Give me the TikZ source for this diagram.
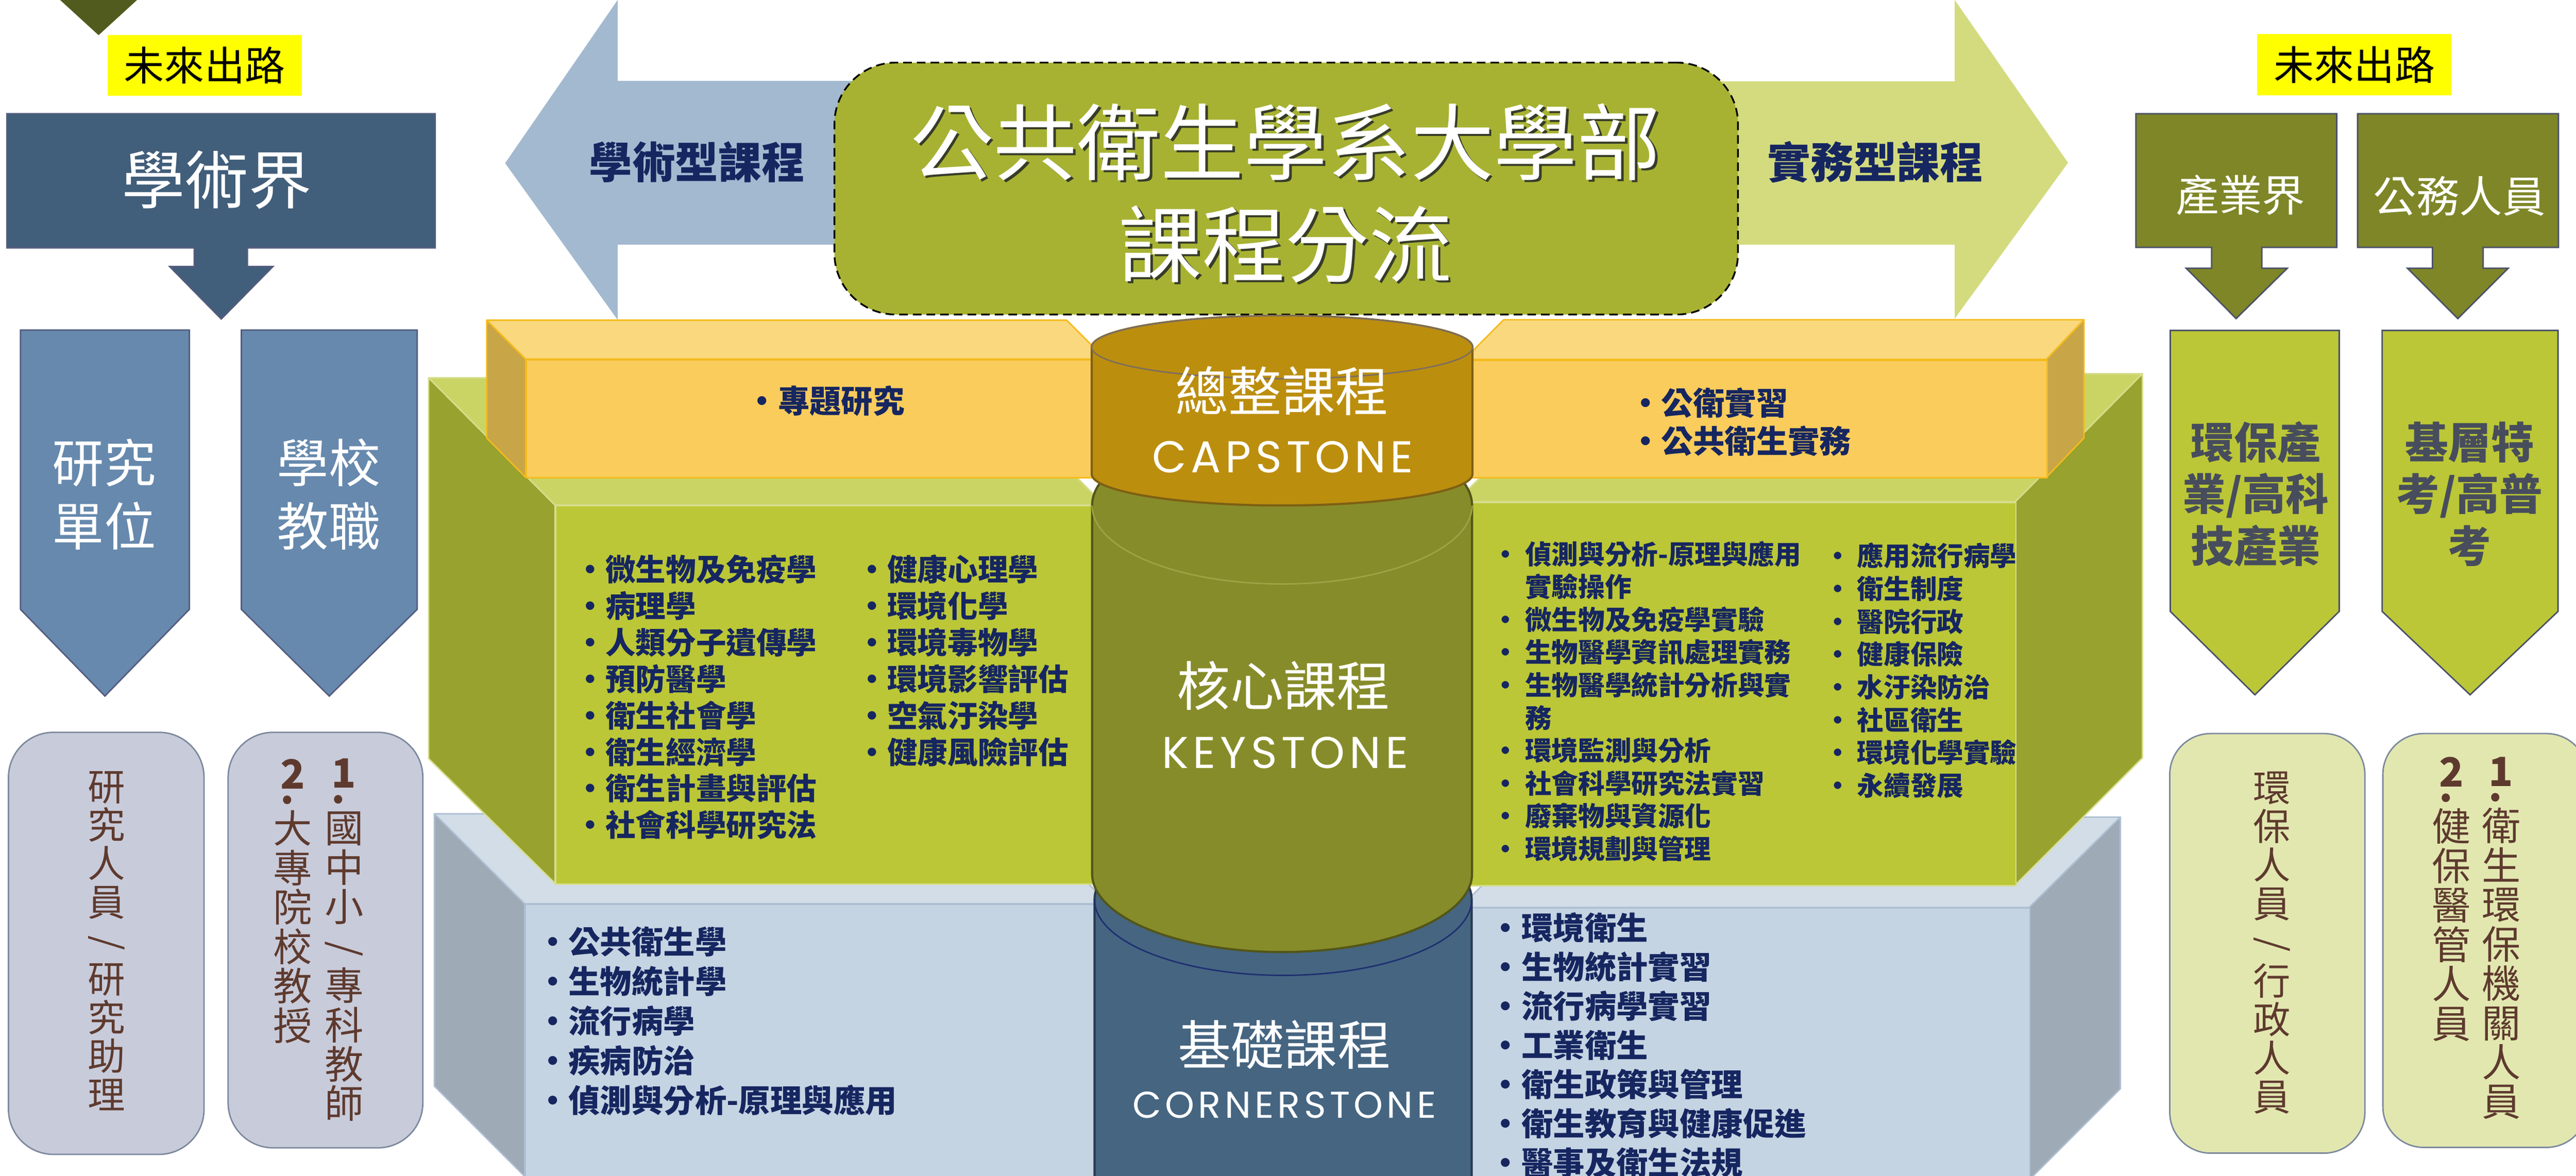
\documentclass[tikz,border=0pt]{standalone}
\usepackage[usenames,dvipsnames]{xcolor}
\usepackage{fontspec}
\setmainfont{Noto Sans CJK TC}
\newfontfamily\stonefont{Poppins}[LetterSpace=10]
\usepackage{tikz}
\usetikzlibrary{calc}
\usetikzlibrary{positioning}

\definecolor{olivedark}{RGB}{82,91,30}
\definecolor{futureyellow}{RGB}{255,255,0}
\definecolor{acadblue}{RGB}{65,94,122}
\definecolor{acadlight}{RGB}{102,137,173}
\definecolor{acadedge}{RGB}{84,92,126}
\definecolor{acadbox}{RGB}{200,203,218}
\definecolor{boxedge}{RGB}{124,137,157}
\definecolor{pracolive}{RGB}{126,134,40}
\definecolor{praclight}{RGB}{187,199,54}
\definecolor{pracbox}{RGB}{226,231,176}
\definecolor{pracedge}{RGB}{74,80,104}
\definecolor{pengray}{RGB}{71,77,92}
\definecolor{arrowblue}{RGB}{163,185,208}
\definecolor{arrowgreen}{RGB}{211,219,126}
\definecolor{titlegreen}{RGB}{167,178,50}
\definecolor{titleshadow}{RGB}{55,60,40}
\definecolor{capfront}{RGB}{249,204,92}
\definecolor{captop}{RGB}{249,216,126}
\definecolor{capside}{RGB}{200,165,71}
\definecolor{capedge}{RGB}{244,187,28}
\definecolor{keyfront}{RGB}{187,199,54}
\definecolor{keytop}{RGB}{202,212,101}
\definecolor{keyside}{RGB}{152,162,46}
\definecolor{keyedge}{RGB}{213,221,140}
\definecolor{cornfront}{RGB}{197,212,226}
\definecolor{corntop}{RGB}{210,221,232}
\definecolor{cornside}{RGB}{158,170,182}
\definecolor{cornedge}{RGB}{174,191,211}
\definecolor{cylcap}{RGB}{188,142,14}
\definecolor{cylcapedge}{RGB}{125,96,20}
\definecolor{cylcaplid}{RGB}{124,110,94}
\definecolor{cylkey}{RGB}{135,140,42}
\definecolor{cylkeyedge}{RGB}{82,86,24}
\definecolor{cylkeyarc}{RGB}{157,164,70}
\definecolor{cylcorn}{RGB}{69,101,129}
\definecolor{cylcornedge}{RGB}{40,58,80}
\definecolor{cylcornarc}{RGB}{31,47,112}
\definecolor{listnavy}{RGB}{22,38,96}
\definecolor{vertbrown}{RGB}{94,58,46}

\newcommand{\jobnum}[1]{{\bfseries\fontsize{28}{28}\selectfont #1}\\[-16.9pt]\makebox[0.6cm][l]{\bfseries .}}

\begin{document}
\begin{tikzpicture}[x=1cm, y=-1cm,
  titlefont/.style={align=center, font=\fontsize{58}{71}\selectfont},
  trackfont/.style={text=listnavy, font=\bfseries\fontsize{30}{30}\selectfont},
  cyltext/.style={text=white, font=\fontsize{37}{37}\selectfont},
  stonetext/.style={text=white, font=\stonefont\fontsize{31}{31}\selectfont},
  listtext/.style={align=left, anchor=north west, inner sep=0pt, text=listnavy},
  vertcol/.style={align=center, anchor=north, inner sep=0pt, text=vertbrown, font=\fontsize{27}{27.4}\selectfont},
  futurebox/.style={rectangle, fill=futureyellow, minimum width=4.75cm, minimum height=1.49cm, anchor=north west, font=\fontsize{28}{28}\selectfont},
  slabedge/.style={line width=1pt, line join=round},
  pentext/.style={align=center, text=pengray, font=\bfseries\fontsize{30}{36}\selectfont}]

\useasboundingbox (0,0) rectangle (62.98,28.75);

\fill[olivedark] (1.47,0) -- (3.35,0) -- (2.41,0.86) -- cycle;
\node at (2.62,0.85) [futurebox] (futureleft) {未來出路};
\node at (55.18,0.83) [futurebox] (futureright) {未來出路};

\fill[arrowblue] (12.35,3.99) -- (15.10,0) -- (15.10,1.98) -- (21.00,1.98) -- (21.00,5.98) -- (15.10,5.98) -- (15.10,7.82) -- cycle;
\fill[arrowgreen] (42.00,1.99) -- (47.79,1.99) -- (47.79,0) -- (50.56,3.98) -- (47.79,7.79) -- (47.79,5.98) -- (42.00,5.98) -- cycle;

\node at (20.38,1.51) [rectangle, rounded corners=1.5cm, draw=black, line width=1.2pt, dash pattern=on 6pt off 3.5pt, fill=titlegreen, minimum width=22.09cm, minimum height=6.16cm, anchor=north west] (titlebox) {};
\node at (31.49,4.78) [titlefont, text=titleshadow] (titleshade) {公共衛生學系大學部\\課程分流};
\node at (31.43,4.72) [titlefont, text=white] (title) {公共衛生學系大學部\\課程分流};

\node at (17.04,3.96) [trackfont] (acadtrack) {學術型課程};
\node at (45.85,3.96) [trackfont] (practrack) {實務型課程};

\filldraw[fill=cornside, draw=cornedge, slabedge] (10.62,19.90) -- (12.83,22.10) -- (12.83,28.77) -- (10.62,26.56) -- cycle;
\filldraw[fill=corntop, draw=cornedge, slabedge] (10.62,19.90) -- (24.90,19.90) -- (27.10,22.10) -- (12.83,22.10) -- cycle;
\node at (12.83,22.10) [rectangle, fill=cornfront, draw=cornedge, slabedge, minimum width=14.3cm, minimum height=7cm, anchor=north west] (cornleft) {};
\filldraw[fill=corntop, draw=cornedge, slabedge] (35.70,22.19) -- (37.90,19.98) -- (51.84,19.98) -- (49.61,22.19) -- cycle;
\filldraw[fill=cornside, draw=cornedge, slabedge] (49.61,22.19) -- (51.84,19.98) -- (51.84,26.62) -- (49.61,28.85) -- cycle;
\node at (35.60,22.19) [rectangle, fill=cornfront, draw=cornedge, slabedge, minimum width=14.01cm, minimum height=7cm, anchor=north west] (cornright) {};

\filldraw[fill=keyside, draw=keyedge, slabedge] (10.48,9.24) -- (13.57,12.35) -- (13.57,21.60) -- (10.48,18.55) -- cycle;
\filldraw[fill=keytop, draw=keyedge, slabedge] (10.48,9.24) -- (23.90,9.24) -- (27.00,12.35) -- (13.57,12.35) -- cycle;
\node at (13.57,12.35) [rectangle, fill=keyfront, draw=keyedge, slabedge, minimum width=13.6cm, minimum height=9.25cm, anchor=north west] (keyleft) {};
\filldraw[fill=keytop, draw=keyedge, slabedge] (35.60,12.27) -- (38.70,9.14) -- (52.38,9.14) -- (49.27,12.27) -- cycle;
\filldraw[fill=keyside, draw=keyedge, slabedge] (49.27,12.27) -- (52.38,9.14) -- (52.38,18.53) -- (49.27,21.64) -- cycle;
\node at (35.60,12.27) [rectangle, fill=keyfront, draw=keyedge, slabedge, minimum width=13.67cm, minimum height=9.37cm, anchor=north west] (keyright) {};

\filldraw[fill=capside, draw=capedge, slabedge] (11.90,7.83) -- (12.85,8.78) -- (12.85,11.67) -- (11.90,10.71) -- cycle;
\filldraw[fill=captop, draw=capedge, slabedge] (11.90,7.83) -- (26.08,7.83) -- (27.03,8.78) -- (12.85,8.78) -- cycle;
\node at (12.85,8.78) [rectangle, fill=capfront, draw=capedge, slabedge, minimum width=14.2cm, minimum height=2.89cm, anchor=north west] (capleft) {};
\filldraw[fill=captop, draw=capedge, slabedge] (35.80,8.79) -- (36.76,7.82) -- (50.95,7.82) -- (50.03,8.79) -- cycle;
\filldraw[fill=capside, draw=capedge, slabedge] (50.03,8.79) -- (50.95,7.82) -- (50.95,10.71) -- (50.03,11.67) -- cycle;
\node at (35.80,8.79) [rectangle, fill=capfront, draw=capedge, slabedge, minimum width=14.23cm, minimum height=2.88cm, anchor=north west] (capright) {};

\filldraw[fill=cylcorn, draw=cylcornedge, line width=1.5pt] (26.76,22.00) -- (26.76,30.00) -- (35.98,30.00) -- (35.98,22.00) arc[start angle=0, end angle=-180, x radius=4.61, y radius=1.85] -- cycle;
\draw[cylcornarc, line width=1pt] (26.76,22.00) arc[start angle=180, end angle=0, x radius=4.61, y radius=1.85];

\filldraw[fill=cylkey, draw=cylkeyedge, line width=1.5pt] (26.70,12.36) -- (26.70,21.36) arc[start angle=180, end angle=0, x radius=4.645, y radius=1.92] -- (35.99,12.36) arc[start angle=0, end angle=-180, x radius=4.645, y radius=1.92] -- cycle;
\draw[cylkeyarc, line width=1pt] (26.70,12.36) arc[start angle=180, end angle=0, x radius=4.645, y radius=1.92];

\filldraw[fill=cylcap, draw=cylcapedge, line width=1.5pt] (26.69,8.49) -- (26.69,11.59) arc[start angle=180, end angle=0, x radius=4.655, y radius=0.77] -- (36.00,8.49) arc[start angle=0, end angle=-180, x radius=4.655, y radius=0.77] -- cycle;
\draw[fill=cylcap, draw=cylcaplid, line width=1pt] (31.345,8.49) ellipse [x radius=4.655, y radius=0.77];

\node at (31.34,9.56) [cyltext] (capname) {總整課程};
\node at (31.36,11.17) [stonetext] (capeng) {CAPSTONE};
\node at (31.38,16.77) [cyltext] (keyname) {核心課程};
\node at (31.42,18.41) [stonetext] (keyeng) {KEYSTONE};
\node at (31.40,25.55) [cyltext] (cornname) {基礎課程};
\node at (31.40,27.02) [stonetext, font=\stonefont\fontsize{26}{26}\selectfont] (corneng) {CORNERSTONE};

\node at (18.24,9.43) [listtext, font=\bfseries\fontsize{22}{26.7}\selectfont] (capleftlist) {•專題研究};
\node at (39.84,9.47) [listtext, font=\bfseries\fontsize{22}{26.7}\selectfont] (caprightlist) {•公衛實習\\•公共衛生實務};

\node at (14.06,13.56) [listtext, font=\bfseries\fontsize{21}{25.4}\selectfont] (keyleftlist) {•微生物及免疫學\\•病理學\\•人類分子遺傳學\\•預防醫學\\•衛生社會學\\•衛生經濟學\\•衛生計畫與評估\\•社會科學研究法};
\node at (20.95,13.56) [listtext, font=\bfseries\fontsize{21}{25.4}\selectfont] (keyleftlisttwo) {•健康心理學\\•環境化學\\•環境毒物學\\•環境影響評估\\•空氣汙染學\\•健康風險評估};

\node at (36.48,13.22) [listtext, font=\bfseries\fontsize{18.5}{22.8}\selectfont] (keyrightlist) {•~偵測與分析-原理與應用\\\phantom{•~}實驗操作\\•~微生物及免疫學實驗\\•~生物醫學資訊處理實務\\•~生物醫學統計分析與實\\\phantom{•~}務\\•~環境監測與分析\\•~社會科學研究法實習\\•~廢棄物與資源化\\•~環境規劃與管理};
\node at (44.60,13.27) [listtext, font=\bfseries\fontsize{18.5}{22.8}\selectfont] (keyrightlisttwo) {•~應用流行病學\\•~衛生制度\\•~醫院行政\\•~健康保險\\•~水汙染防治\\•~社區衛生\\•~環境化學實驗\\•~永續發展};

\node at (13.12,22.65) [listtext, font=\bfseries\fontsize{22}{27.6}\selectfont] (cornleftlist) {•公共衛生學\\•生物統計學\\•流行病學\\•疾病防治\\•偵測與分析-原理與應用};
\node at (36.42,22.31) [listtext, font=\bfseries\fontsize{22}{27.2}\selectfont] (cornrightlist) {•環境衛生\\•生物統計實習\\•流行病學實習\\•工業衛生\\•衛生政策與管理\\•衛生教育與健康促進\\•醫事及衛生法規};

\draw[fill=acadblue, draw=acadedge, line width=1pt] (0.17,2.78) -- (10.64,2.78) -- (10.64,6.06) -- (6.05,6.06) -- (6.05,6.52) -- (6.67,6.52) -- (5.41,7.80) -- (4.15,6.52) -- (4.75,6.52) -- (4.75,6.06) -- (0.17,6.06) -- cycle;
\node at (5.30,4.40) [text=white, font=\fontsize{44}{44}\selectfont] (acad) {學術界};

\draw[fill=acadlight, draw=acadedge, line width=1pt] (0.50,8.07) -- (4.63,8.07) -- (4.63,14.90) -- (2.565,17.02) -- (0.50,14.90) -- cycle;
\draw[fill=acadlight, draw=acadedge, line width=1pt] (5.90,8.07) -- (10.20,8.07) -- (10.20,14.90) -- (8.05,17.02) -- (5.90,14.90) -- cycle;
\node at (2.55,12.09) [align=center, text=white, font=\fontsize{36}{44}\selectfont] (resunit) {研究\\單位};
\node at (8.04,12.09) [align=center, text=white, font=\fontsize{36}{44}\selectfont] (schpost) {學校\\教職};

\node at (0.19,17.89) [rectangle, rounded corners=1.1cm, draw=boxedge, line width=1pt, fill=acadbox, minimum width=4.78cm, minimum height=10.32cm, anchor=north west] (resjob) {};
\node at (5.56,17.89) [rectangle, rounded corners=1.1cm, draw=boxedge, line width=1pt, fill=acadbox, minimum width=4.76cm, minimum height=10.16cm, anchor=north west] (schjob) {};
\node at (2.61,18.85) [vertcol, font=\fontsize{26}{26.8}\selectfont] (resjobtext) {研\\究\\人\\員\\\rotatebox[origin=c]{-90}{/}\\研\\究\\助\\理};
\node at (8.41,18.55) [vertcol] (schjobone) {\jobnum{1}\\國\\中\\小\\\rotatebox[origin=c]{-90}{/}\\專\\科\\教\\師};
\node at (7.16,18.55) [vertcol] (schjobtwo) {\jobnum{2}\\大\\專\\院\\校\\教\\授};

\draw[fill=pracolive, draw=pracedge, line width=1pt] (52.22,2.78) -- (57.13,2.78) -- (57.13,6.05) -- (55.30,6.05) -- (55.30,6.56) -- (55.92,6.56) -- (54.67,7.79) -- (53.45,6.56) -- (54.07,6.56) -- (54.07,6.05) -- (52.22,6.05) -- cycle;
\draw[fill=pracolive, draw=pracedge, line width=1pt] (57.64,2.78) -- (62.55,2.78) -- (62.55,6.05) -- (60.71,6.05) -- (60.71,6.56) -- (61.32,6.56) -- (60.09,7.79) -- (58.86,6.56) -- (59.47,6.56) -- (59.47,6.05) -- (57.64,6.05) -- cycle;
\node at (54.78,4.77) [text=white, font=\fontsize{30}{30}\selectfont] (industry) {產業界};
\node at (60.13,4.80) [text=white, font=\fontsize{30}{30}\selectfont] (civil) {公務人員};

\draw[fill=praclight, draw=pracedge, line width=1pt] (53.06,8.08) -- (57.19,8.08) -- (57.19,14.95) -- (55.13,16.99) -- (53.06,14.95) -- cycle;
\draw[fill=praclight, draw=pracedge, line width=1pt] (58.24,8.08) -- (62.54,8.08) -- (62.54,14.95) -- (60.39,16.99) -- (58.24,14.95) -- cycle;
\node at (55.15,12.08) [pentext] (envind) {環保產\\業/高科\\技產業};
\node at (60.38,12.08) [pentext] (govexam) {基層特\\考/高普\\考};

\node at (53.03,17.92) [rectangle, rounded corners=1cm, draw=boxedge, line width=1pt, fill=pracbox, minimum width=4.77cm, minimum height=10.26cm, anchor=north west] (envjob) {};
\node at (58.24,17.92) [rectangle, rounded corners=1cm, draw=boxedge, line width=1pt, fill=pracbox, minimum width=5.0cm, minimum height=10.12cm, anchor=north west] (govjob) {};
\node at (55.54,18.86) [vertcol, font=\fontsize{26}{26.9}\selectfont] (envjobtext) {環\\保\\人\\員\\\rotatebox[origin=c]{-90}{/}\\行\\政\\人\\員};
\node at (61.15,18.50) [vertcol] (govjobone) {\jobnum{1}\\衛\\生\\環\\保\\機\\關\\人\\員};
\node at (59.93,18.50) [vertcol] (govjobtwo) {\jobnum{2}\\健\\保\\醫\\管\\人\\員};

\end{tikzpicture}
\end{document}
